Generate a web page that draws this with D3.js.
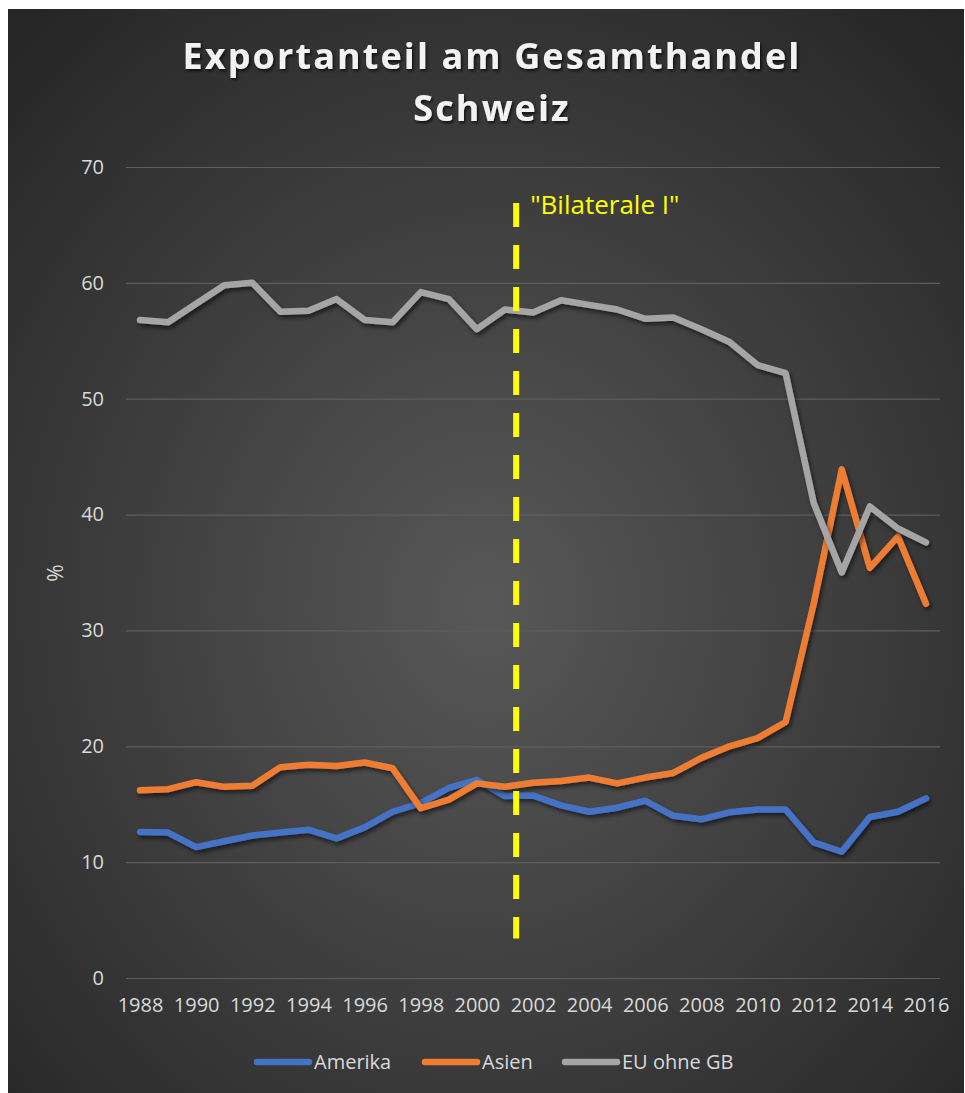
<!DOCTYPE html>
<html>
<head>
<meta charset="utf-8">
<script src="https://cdn.jsdelivr.net/npm/d3@7/dist/d3.min.js"></script>
<style>
html,body{margin:0;padding:0;background:#fff;}
svg{display:block;}
</style>
</head>
<body>
<svg id="chart" width="965" height="1093"></svg>
<script>
// ---- data ----
const years = [1988,1989,1990,1991,1992,1993,1994,1995,1996,1997,1998,1999,2000,2001,2002,2003,2004,2005,2006,2007,2008,2009,2010,2011,2012,2013,2014,2015,2016];
const amerika = [12.6,12.55,11.3,11.8,12.3,12.55,12.8,12.05,13.0,14.35,15.1,16.4,17.1,15.7,15.75,14.9,14.35,14.7,15.3,14.0,13.7,14.3,14.55,14.55,11.7,10.9,13.9,14.35,15.5];
const asien = [16.2,16.3,16.9,16.5,16.6,18.2,18.4,18.3,18.6,18.1,14.65,15.4,16.8,16.5,16.85,17.0,17.3,16.8,17.3,17.7,19.0,20.0,20.7,22.1,32.3,43.9,35.4,38.1,32.3];
const euOhneGB = [56.8,56.6,58.2,59.8,60.0,57.5,57.6,58.6,56.8,56.6,59.2,58.6,56.0,57.7,57.45,58.5,58.1,57.7,56.9,57.0,56.0,54.9,52.9,52.2,41.0,35.0,40.7,38.8,37.6];
const seriesNames = ["Amerika","Asien","EU ohne GB"];
const yTicks = [0,10,20,30,40,50,60,70];
const xTickLabels = [1988,1990,1992,1994,1996,1998,2000,2002,2004,2006,2008,2010,2012,2014,2016];
const titleLines = ["Exportanteil am Gesamthandel","Schweiz"];
const yAxisTitle = "%";
const markerLabel = "\"Bilaterale I\"";
const markerYear = 2001.4;
const markerRange = [66.9, 3.4];

// ---- layout / styles ----
const colors = ["#4472C4","#ED7D31","#A5A5A5"];
const font = "'Open Sans', 'DejaVu Sans', sans-serif";
const svg = d3.select("#chart");

const defs = svg.append("defs");
const grad = defs.append("radialGradient").attr("id","bg")
  .attr("cx","50%").attr("cy","55%").attr("r","72%");
grad.append("stop").attr("offset","0%").attr("stop-color","#585858");
grad.append("stop").attr("offset","100%").attr("stop-color","#262626");

const sh = defs.append("filter").attr("id","shadow").attr("x","-10%").attr("y","-10%").attr("width","120%").attr("height","120%");
sh.append("feDropShadow").attr("dx",2).attr("dy",3).attr("stdDeviation",2.2)
  .attr("flood-color","#000").attr("flood-opacity",0.55);

const tsh = defs.append("filter").attr("id","tshadow").attr("x","-5%").attr("y","-20%").attr("width","110%").attr("height","140%");
tsh.append("feDropShadow").attr("dx",1.5).attr("dy",2).attr("stdDeviation",1.8)
  .attr("flood-color","#000").attr("flood-opacity",0.7);

svg.append("rect").attr("x",8).attr("y",9).attr("width",956).attr("height",1084).attr("fill","url(#bg)");

const x = d3.scaleLinear().domain([years[0]-0.5, years[years.length-1]+0.5]).range([126, 940]);
const y = d3.scaleLinear().domain([0,70]).range([978,167]);

// gridlines
const yAxis = d3.axisLeft(y).tickValues(yTicks).tickSize(-(940-126)).tickPadding(22).tickFormat(d3.format("d"));
const gy = svg.append("g").attr("transform","translate(126,0)").call(yAxis);
gy.select(".domain").remove();
gy.selectAll(".tick line").attr("stroke","#5e5e5e").attr("stroke-width",1.2);
gy.selectAll(".tick text").attr("fill","#d9d9d9").style("font-family",font).style("font-size","20px");

// x axis labels
const xAxis = d3.axisBottom(x).tickValues(xTickLabels).tickSize(0).tickPadding(20).tickFormat(d3.format("d"));
const gx = svg.append("g").attr("transform","translate(0,978)").call(xAxis);
gx.select(".domain").remove();
gx.selectAll(".tick text").attr("fill","#d9d9d9").style("font-family",font).style("font-size","20px");

// y axis title
svg.append("text").attr("transform","translate(63,573) rotate(-90)")
  .attr("text-anchor","middle").attr("fill","#d9d9d9")
  .style("font-family",font).style("font-size","21px").text(yAxisTitle);

// lines
const allSeries = [amerika, asien, euOhneGB];
const line = d3.line().x((d,i)=>x(years[i])).y(d=>y(d));
svg.append("g").selectAll("path").data(allSeries).join("path")
  .attr("d", d=>line(d))
  .attr("fill","none")
  .attr("stroke",(d,i)=>colors[i])
  .attr("stroke-width",6.5)
  .attr("stroke-linejoin","round")
  .attr("stroke-linecap","round")
  .attr("filter","url(#shadow)");

// marker line
svg.append("line")
  .attr("x1",x(markerYear)).attr("x2",x(markerYear))
  .attr("y1",y(markerRange[0])).attr("y2",y(markerRange[1]))
  .attr("stroke","#FFFF00").attr("stroke-width",6)
  .attr("stroke-dasharray","24 18");
svg.append("text").attr("x",x(markerYear)+14).attr("y",214)
  .attr("fill","#FFFF00").style("font-family",font).style("font-size","26px")
  .text(markerLabel);

// title
svg.append("g").attr("filter","url(#tshadow)").selectAll("text").data(titleLines).join("text")
  .attr("x",492).attr("y",(d,i)=>69+i*52)
  .attr("text-anchor","middle").attr("fill","#f2f2f2")
  .style("font-family",font).style("font-weight","bold").style("font-size","36px")
  .style("letter-spacing","2.1px")
  .text(d=>d);

// legend
const legendX = [255, 423, 563];
const lg = svg.append("g").selectAll("g").data(seriesNames).join("g")
  .attr("transform",(d,i)=>`translate(${legendX[i]},1062)`);
lg.append("line").attr("x1",2).attr("x2",54).attr("y1",0).attr("y2",0)
  .attr("stroke",(d,i)=>colors[i]).attr("stroke-width",6.5).attr("stroke-linecap","round");
lg.append("text").attr("x",59).attr("y",7).attr("fill","#d9d9d9")
  .style("font-family",font).style("font-size","20px").text(d=>d);
</script>
</body>
</html>
